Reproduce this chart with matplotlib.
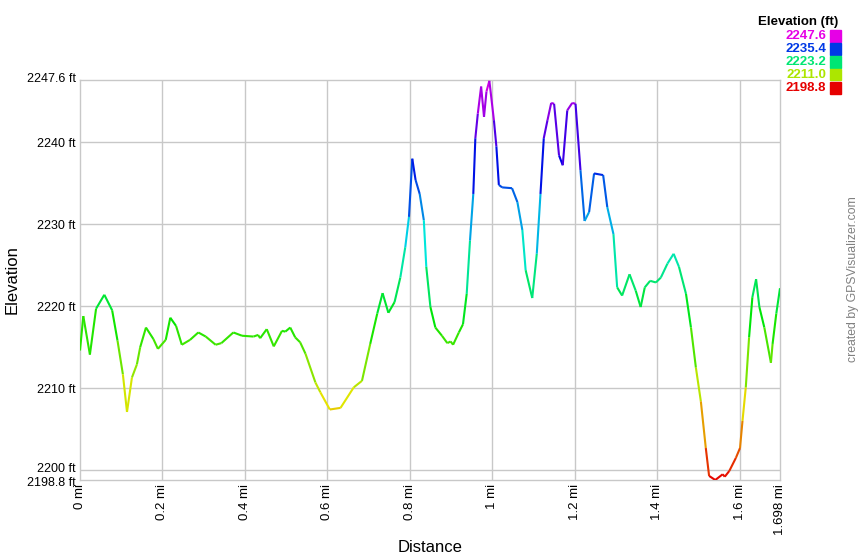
import numpy as np
import matplotlib
matplotlib.use("Agg")
import matplotlib.pyplot as plt
from matplotlib.collections import LineCollection
from matplotlib.colors import hsv_to_rgb
from matplotlib.transforms import ScaledTranslation

plt.rcParams['font.family'] = ['Liberation Sans', 'DejaVu Sans']

# elevation profile
dist_mi = [0.000, 0.008, 0.024, 0.039, 0.059, 0.078, 0.091, 0.104, 0.114, 0.126,
           0.138, 0.146, 0.160, 0.178, 0.189, 0.208, 0.219, 0.233, 0.247, 0.267,
           0.287, 0.305, 0.329, 0.343, 0.372, 0.393, 0.421, 0.432, 0.437, 0.453,
           0.470, 0.490, 0.498, 0.510, 0.522, 0.534, 0.547, 0.571, 0.583, 0.606,
           0.632, 0.664, 0.684, 0.704, 0.721, 0.734, 0.748, 0.763, 0.777, 0.789,
           0.798, 0.806, 0.814, 0.824, 0.834, 0.840, 0.850, 0.862, 0.878, 0.891,
           0.899, 0.905, 0.919, 0.929, 0.938, 0.946, 0.954, 0.959, 0.965, 0.973,
           0.980, 0.986, 0.993, 1.004, 1.010, 1.016, 1.024, 1.048, 1.061, 1.073,
           1.081, 1.097, 1.108, 1.117, 1.125, 1.134, 1.143, 1.150, 1.162, 1.171,
           1.182, 1.194, 1.202, 1.214, 1.224, 1.235, 1.247, 1.269, 1.279, 1.294,
           1.303, 1.315, 1.333, 1.348, 1.360, 1.370, 1.383, 1.397, 1.409, 1.425,
           1.440, 1.453, 1.470, 1.482, 1.494, 1.506, 1.518, 1.526, 1.541, 1.559,
           1.564, 1.575, 1.591, 1.601, 1.607, 1.615, 1.623, 1.631, 1.640, 1.648,
           1.660, 1.676, 1.680, 1.689, 1.698]
elev_ft = [2214.6, 2218.8, 2214.1, 2219.7, 2221.4, 2219.5, 2215.8, 2211.7, 2207.1, 2211.3,
           2212.9, 2215.0, 2217.4, 2216.0, 2214.8, 2215.9, 2218.6, 2217.6, 2215.3, 2215.9,
           2216.8, 2216.3, 2215.3, 2215.5, 2216.8, 2216.4, 2216.3, 2216.5, 2216.1, 2217.2,
           2215.1, 2217.0, 2216.9, 2217.4, 2216.2, 2215.6, 2214.2, 2210.7, 2209.5, 2207.4,
           2207.6, 2210.1, 2210.9, 2215.4, 2219.1, 2221.6, 2219.2, 2220.5, 2223.5, 2227.2,
           2230.9, 2238.0, 2235.4, 2233.7, 2230.5, 2224.8, 2219.9, 2217.4, 2216.4, 2215.5,
           2215.7, 2215.3, 2216.8, 2217.8, 2221.5, 2228.0, 2233.7, 2240.5, 2243.5, 2246.8,
           2243.1, 2246.2, 2247.5, 2242.7, 2239.5, 2234.8, 2234.5, 2234.4, 2232.7, 2229.3,
           2224.4, 2221.0, 2226.4, 2233.7, 2240.5, 2242.7, 2244.8, 2244.7, 2238.4, 2237.2,
           2243.9, 2244.8, 2244.7, 2236.6, 2230.4, 2231.5, 2236.2, 2236.0, 2232.1, 2228.8,
           2222.3, 2221.3, 2223.9, 2221.9, 2219.9, 2222.3, 2223.1, 2222.9, 2223.5, 2225.2,
           2226.4, 2224.8, 2221.5, 2217.4, 2212.5, 2208.4, 2202.7, 2199.3, 2198.8, 2199.5,
           2199.2, 2199.9, 2201.5, 2202.7, 2206.0, 2210.1, 2216.2, 2221.1, 2223.3, 2219.9,
           2217.4, 2213.1, 2215.4, 2219.1, 2222.2]

y_min, y_max = 2198.8, 2247.6
x_max = 1.698
x_ticks = [0, 0.2, 0.4, 0.6, 0.8, 1.0, 1.2, 1.4, 1.6, 1.698]
x_labels = ['0 mi', '0.2 mi', '0.4 mi', '0.6 mi', '0.8 mi', '1 mi', '1.2 mi', '1.4 mi', '1.6 mi', '1.698 mi']
y_ticks = [2198.8, 2200, 2210, 2220, 2230, 2240, 2247.6]
y_labels = ['2198.8 ft', '2200 ft', '2210 ft', '2220 ft', '2230 ft', '2240 ft', '2247.6 ft']
legend_vals = [2247.6, 2235.4, 2223.2, 2211.0, 2198.8]


def elev_color(e):
    # red at the lowest point, magenta at the highest
    f = (e - y_min) / (y_max - y_min)
    f = min(max(f, 0), 1)
    return hsv_to_rgb((f * 300 / 360, 1.0, 0.9))


fig = plt.figure(figsize=(8.6, 5.6), dpi=100)
ax = fig.add_axes([80 / 860, 80 / 560, 700 / 860, 400 / 560])

x = np.array(dist_mi)
y = np.array(elev_ft)
pts = np.column_stack([x, y]).reshape(-1, 1, 2)
segs = np.concatenate([pts[:-1], pts[1:]], axis=1)
cols = [elev_color((a + b) / 2) for a, b in zip(y[:-1], y[1:])]
ax.add_collection(LineCollection(segs, colors=cols, linewidths=1.5, zorder=3))

ax.set_xlim(0, x_max)
ax.set_ylim(y_min, y_max)

grid_c = '#c8c8c8'
for v in x_ticks[1:-1]:
    ax.axvline(v, color=grid_c, lw=1.0, zorder=1)
for v in y_ticks[1:-1]:
    ax.axhline(v, color=grid_c, lw=1.0, zorder=1)
for s in ax.spines.values():
    s.set_color(grid_c)
    s.set_linewidth(1.0)

ax.set_xticks(x_ticks)
ax.set_xticklabels(x_labels, rotation=90, fontsize=9.5)
ax.set_yticks(y_ticks)
ax.set_yticklabels(y_labels, fontsize=9)
ax.tick_params(length=0, pad=3)

# the two bottom labels sit very close, nudge them apart a little
ylab = ax.get_yticklabels()
ylab[0].set_transform(ylab[0].get_transform() + ScaledTranslation(0, -1 / 100, fig.dpi_scale_trans))
ylab[1].set_transform(ylab[1].get_transform() + ScaledTranslation(0, 3 / 100, fig.dpi_scale_trans))
ylab[-1].set_transform(ylab[-1].get_transform() + ScaledTranslation(0, 2 / 100, fig.dpi_scale_trans))

fig.text(430 / 860, 1 - 548 / 560, 'Distance', ha='center', va='center', fontsize=12)
fig.text(12 / 860, 1 - 280 / 560, 'Elevation', ha='center', va='center', rotation=90, fontsize=12)
fig.text(853 / 860, 1 - 279 / 560, 'created by GPSVisualizer.com', ha='center', va='center',
         rotation=90, fontsize=8.8, color='#808080')

# colour key
fig.text(838 / 860, 1 - 22 / 560, 'Elevation (ft)', ha='right', va='center',
         fontsize=9.5, fontweight='bold')
for i, v in enumerate(legend_vals):
    yy = 1 - (36 + i * 13) / 560
    c = elev_color(v)
    fig.text(826 / 860, yy, f'{v:.1f}', ha='right', va='center', fontsize=9.5,
             fontweight='bold', color=c)
    fig.patches.append(plt.Rectangle((830 / 860, yy - 5.5 / 560), 11 / 860, 11 / 560,
                                     transform=fig.transFigure, color=c, figure=fig))

fig.savefig('out.png', dpi=100)
